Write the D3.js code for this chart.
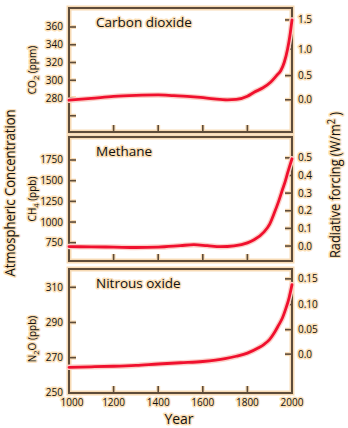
<!DOCTYPE html>
<html><head><meta charset="utf-8">
<script src="https://cdn.jsdelivr.net/npm/d3@7"></script>
<style>
body{margin:0;background:#fff;}
text{font-family:"Open Sans",sans-serif;fill:#111;stroke:#fbe0b8;stroke-width:3px;paint-order:stroke;stroke-linejoin:round;}
</style></head><body>
<svg id="c" width="348" height="428"></svg>
<script>
// ---- data ----
const co2Years = [1000,1100,1200,1300,1400,1470,1530,1590,1650,1710,1750,1800,1830,1870,1905,1930,1950,1965,1980,1990,2000];
const co2Values = [277.5,279.5,281.8,283,283.5,282.6,281.8,280.6,279,278,278.4,282,286.5,291.5,298,305,311,320,335,349,368];
const ch4Years = [1000,1100,1200,1300,1400,1500,1560,1620,1680,1740,1800,1830,1875,1900,1920,1940,1957,1970,1980,1990,2000];
const ch4Values = [703,700,697,692,697,715,726,714,702,712,748,785,882,975,1105,1250,1390,1495,1590,1680,1765];
const n2oYears = [1000,1100,1200,1300,1400,1500,1600,1700,1750,1800,1850,1875,1900,1920,1940,1957,1970,1987,2000];
const n2oValues = [264.5,264.8,265.1,265.6,266.4,267.1,267.8,269.4,270.8,272.6,275.6,277.6,280.4,284,288.5,292.5,297,304,311.5];

const yearTicks = [1000,1200,1400,1600,1800,2000];
const co2Ticks = [260,280,300,320,340,360];
const co2TickLabels = ["","280","300","320","340","360"];
const ch4Ticks = [750,1000,1250,1500,1750];
const n2oTicks = [250,270,290,310];
const co2Forcing = [0,0.5,1.0,1.5];
const co2ForcingLabels = ["0.0","0.5","1.0","1.5"];
const ch4Forcing = [0,0.1,0.2,0.3,0.4,0.5];
const ch4ForcingLabels = ["0.0","0.1","0.2","0.3","0.4","0.5"];
const n2oForcing = [0,0.05,0.10,0.15];
const n2oForcingLabels = ["0.0","0.05","0.10","0.15"];

const titles = ["Carbon dioxide","Methane","Nitrous oxide"];

// forcing -> concentration conversions
const co2FromF = f => 278*Math.exp(f/5.35);
const ch4FromF = f => 710 + f*2132;
const n2oFromF = f => Math.pow(Math.sqrt(272)+f/0.12,2);

// ---- layout ----
const svg = d3.select("#c");
const L = 69, R = 292;
const x = d3.scaleLinear().domain([1000,2000]).range([L,R]);

const panels = [
  {top:8,bottom:132,dom:[241.7,381.4],years:co2Years,vals:co2Values,ticks:co2Ticks,tickLabels:co2TickLabels,
   ft:co2Forcing,fl:co2ForcingLabels,conv:co2FromF,title:titles[0],unit:["CO","2"," (ppm)"],unitDy:0},
  {top:137,bottom:261,dom:[529,2028],years:ch4Years,vals:ch4Values,ticks:ch4Ticks,tickLabels:ch4Ticks.map(String),
   ft:ch4Forcing,fl:ch4ForcingLabels,conv:ch4FromF,title:titles[1],unit:["CH","4"," (ppb)"],unitDy:0},
  {top:269,bottom:393,dom:[249.9,320.4],years:n2oYears,vals:n2oValues,ticks:n2oTicks,tickLabels:n2oTicks.map(String),
   ft:n2oForcing,fl:n2oForcingLabels,conv:n2oFromF,title:titles[2],unit:["N","2","O (ppb)"],unitDy:8}
];

const frameDark = "#5e4c3a", halo = "#f7dab4", tickLen = 7;

panels.forEach((p,i)=>{
  const y = d3.scaleLinear().domain(p.dom).range([p.bottom,p.top]);
  const g = svg.append("g");
  g.append("rect").attr("x",L).attr("y",p.top).attr("width",R-L).attr("height",p.bottom-p.top)
    .attr("fill","none").attr("stroke",halo).attr("stroke-width",5);
  const tickG = g.append("g");
  const drawTick = (x1,y1,x2,y2)=>{
    tickG.append("line").attr("x1",x1).attr("y1",y1).attr("x2",x2).attr("y2",y2)
      .attr("stroke",halo).attr("stroke-width",4);
    tickG.append("line").attr("x1",x1).attr("y1",y1).attr("x2",x2).attr("y2",y2)
      .attr("stroke",frameDark).attr("stroke-width",1.6);
  };
  p.ticks.forEach(t=>{ if(y(t)<p.bottom-2) drawTick(L,y(t),L+tickLen,y(t)); });
  p.ft.forEach(f=>drawTick(R-tickLen,y(p.conv(f)),R,y(p.conv(f))));
  yearTicks.filter(t=>t>1000&&t<2000).forEach(t=>drawTick(x(t),p.bottom,x(t),p.bottom-tickLen));
  g.append("rect").attr("x",L).attr("y",p.top).attr("width",R-L).attr("height",p.bottom-p.top)
    .attr("fill","none").attr("stroke",frameDark).attr("stroke-width",2);

  p.ticks.forEach((t,k)=>{
    g.append("text").attr("x",L-6).attr("y",y(t)).attr("dy","0.35em").attr("text-anchor","end")
      .attr("font-size",10).text(p.tickLabels[k]);
  });
  p.ft.forEach((f,k)=>{
    g.append("text").attr("x",R+6).attr("y",y(p.conv(f))).attr("dy","0.35em")
      .attr("font-size",10).text(p.fl[k]);
  });

  const line = d3.line().x((d,k)=>x(p.years[k])).y(d=>y(d)).curve(d3.curveMonotoneX);
  g.append("path").datum(p.vals).attr("d",line).attr("fill","none")
    .attr("stroke","#fbd0c8").attr("stroke-width",5.5).attr("stroke-linecap","round");
  g.append("path").datum(p.vals).attr("d",line).attr("fill","none")
    .attr("stroke","#f0102e").attr("stroke-width",2.8).attr("stroke-linecap","round");

  g.append("text").attr("x",96).attr("y",p.top+19).attr("font-size",13.5).text(p.title);

  const cy = (p.top+p.bottom)/2 + p.unitDy;
  const ut = g.append("text").attr("transform",`translate(36,${cy}) rotate(-90)`)
    .attr("text-anchor","middle").attr("font-size",10);
  ut.append("tspan").text(p.unit[0]);
  ut.append("tspan").attr("dy",3).attr("font-size",7.5).text(p.unit[1]);
  ut.append("tspan").attr("dy",-3).text(p.unit[2]);

  if(i===2){
    yearTicks.forEach(t=>{
      g.append("text").attr("x",x(t)+(t===1000?3:0)).attr("y",p.bottom+13).attr("text-anchor","middle")
        .attr("font-size",10).text(String(t));
    });
  }
});

svg.append("text").attr("x",179).attr("y",424).attr("text-anchor","middle").attr("font-size",14).text("Year");
svg.append("text").attr("transform","translate(15,193) rotate(-90)").attr("text-anchor","middle")
  .attr("font-size",14).attr("textLength",167).attr("lengthAdjust","spacingAndGlyphs")
  .text("Atmospheric Concentration");
const rt = svg.append("text").attr("transform","translate(340,185) rotate(-90)").attr("text-anchor","middle")
  .attr("font-size",14).attr("textLength",146).attr("lengthAdjust","spacingAndGlyphs");
rt.append("tspan").text("Radiative forcing (W/m");
rt.append("tspan").attr("dy",-5).attr("font-size",10).text("2");
rt.append("tspan").attr("dy",5).text(" )");
</script>
</body></html>
